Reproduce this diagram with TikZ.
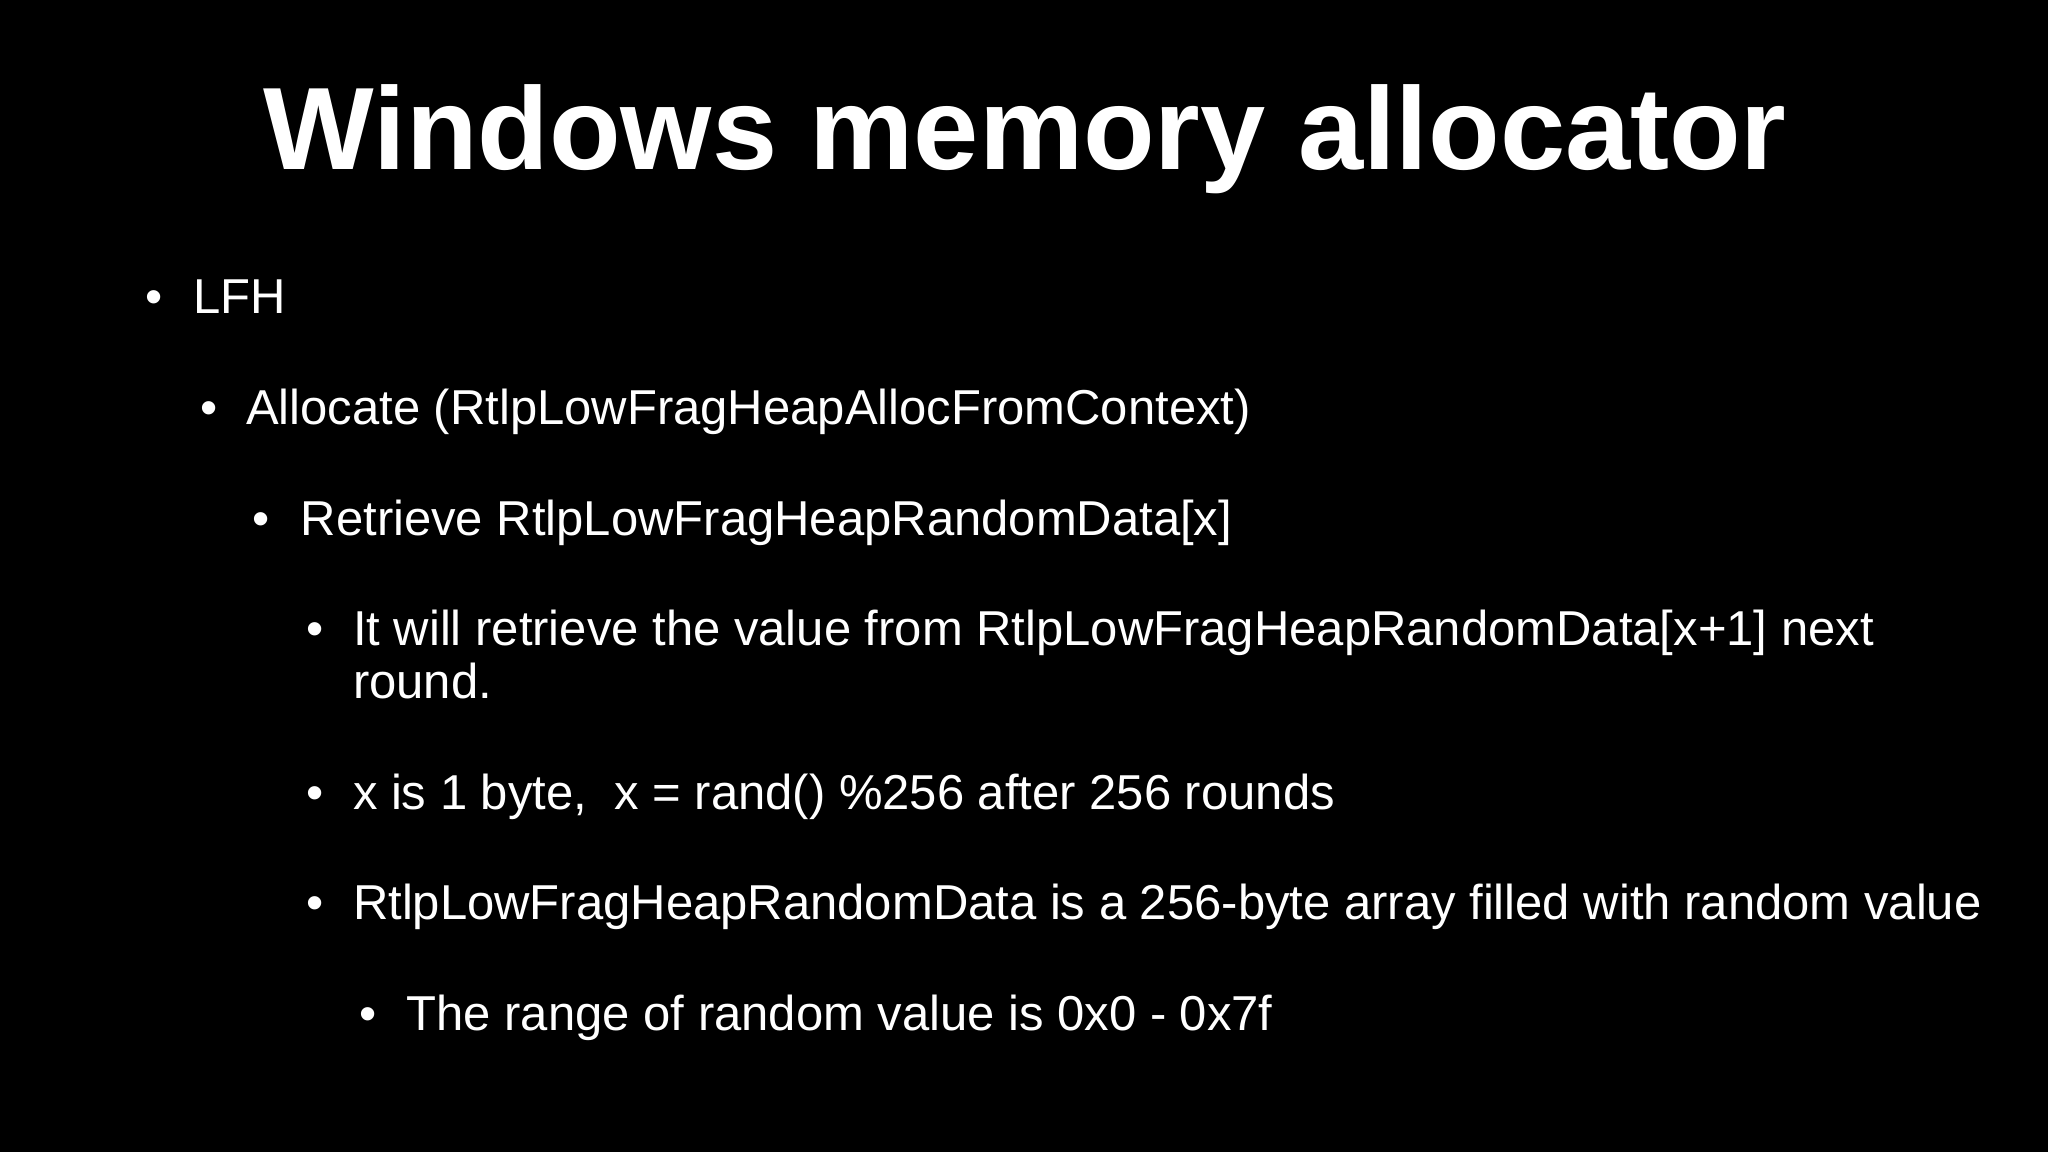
\documentclass[tikz,border=0pt]{standalone}
\usepackage{fontspec}
\setmainfont{Liberation Sans}
\begin{document}
\begin{tikzpicture}[x=1pt,y=-1pt,
  txt/.style={anchor=base west,inner sep=0pt,text=white,font=\fontsize{24.5}{29}\selectfont},
  bul/.style={anchor=base,inner sep=0pt,text=white,font=\fontsize{24.5}{29}\selectfont}]
\fill[black] (0,0) rectangle (1024,576);
\useasboundingbox (0,0) rectangle (1024,576);
\node[anchor=base,inner sep=0pt,text=white,font=\fontsize{58.6}{64}\selectfont\bfseries] (title) at (512.6,84.9) {Windows memory allocator};
\node[bul] (b1) at (77,156.7) {•};
\node[txt] (t1) at (96.6,156.7) {LFH};
\node[bul] (b2) at (104.5,212.2) {•};
\node[txt] (t2) at (122.8,212.2) {Allocate (RtlpLowFragHeapAllocFromContext)};
\node[bul] (b3) at (130.6,267.7) {•};
\node[txt] (t3) at (150.2,267.7) {Retrieve RtlpLowFragHeapRandomData[x]};
\node[bul] (b4) at (157.4,322.6) {•};
\node[txt] (t4) at (176.3,322.6) {It will retrieve the value from RtlpLowFragHeapRandomData[x+1] next};
\node[txt] (t4b) at (176.3,349.4) {round.};
\node[bul] (b5) at (157.4,404.9) {•};
\node[txt] (t5) at (176.3,404.9) {x is 1 byte,\ \ x = rand() \%256 after 256 rounds};
\node[bul] (b6) at (157.4,459.7) {•};
\node[txt] (t6) at (176.3,459.7) {RtlpLowFragHeapRandomData is a 256-byte array filled with random value};
\node[bul] (b7) at (184.1,515.2) {•};
\node[txt] (t7) at (203.1,515.2) {The range of random value is 0x0 - 0x7f};
\end{tikzpicture}
\end{document}
